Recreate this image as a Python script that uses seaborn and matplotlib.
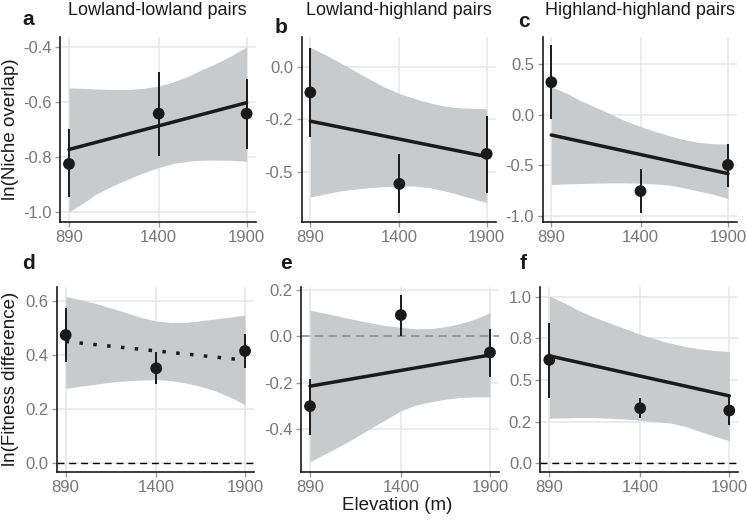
import numpy as np
import pandas as pd
import matplotlib
matplotlib.use("Agg")
import matplotlib.pyplot as plt
import seaborn as sns

# elevations of the three sites
elev = [890, 1400, 1900]
elev_ticks = ["890", "1400", "1900"]

# site means with error bars, one row per panel (a-f)
pt_mean = [[-0.826, -0.642, -0.642],
           [-0.121, -0.557, -0.414],
           [0.317, -0.752, -0.495],
           [0.474, 0.351, 0.415],
           [-0.300, 0.092, -0.069],
           [0.621, 0.331, 0.317]]
pt_low = [[-0.948, -0.798, -0.771],
          [-0.334, -0.697, -0.599],
          [-0.041, -0.971, -0.707],
          [0.375, 0.293, 0.351],
          [-0.422, 0.000, -0.176],
          [0.391, 0.271, 0.228]]
pt_high = [[-0.700, -0.489, -0.514],
           [0.091, -0.416, -0.232],
           [0.686, -0.537, -0.286],
           [0.573, 0.412, 0.477],
           [-0.181, 0.178, 0.034],
           [0.844, 0.391, 0.399]]

# fitted regression line (value at 890 m and 1900 m)
fit_x = [890, 1900]
fit_y = [[-0.773, -0.602],
         [-0.258, -0.427],
         [-0.201, -0.580],
         [0.450, 0.381],
         [-0.214, -0.080],
         [0.645, 0.405]]

# confidence band read at these elevations
band_x = [890, 980, 1050, 1135, 1220, 1310, 1400, 1485, 1570, 1650, 1735, 1820, 1900]
band_hi = [[-0.548, -0.550, -0.552, -0.554, -0.554, -0.550, -0.541, -0.526, -0.505, -0.480, -0.456, -0.428, -0.398],
           [0.094, 0.057, 0.025, -0.014, -0.054, -0.094, -0.126, -0.150, -0.170, -0.185, -0.194, -0.197, -0.199],
           [0.272, 0.207, 0.142, 0.077, 0.013, -0.060, -0.118, -0.167, -0.209, -0.248, -0.274, -0.287, -0.290],
           [0.617, 0.604, 0.593, 0.576, 0.559, 0.540, 0.526, 0.520, 0.521, 0.527, 0.534, 0.541, 0.548],
           [0.113, 0.099, 0.087, 0.073, 0.060, 0.047, 0.039, 0.033, 0.034, 0.042, 0.056, 0.076, 0.102],
           [1.004, 0.960, 0.920, 0.880, 0.846, 0.810, 0.774, 0.747, 0.721, 0.701, 0.687, 0.677, 0.671]]
band_lo = [[-1.001, -0.965, -0.934, -0.907, -0.883, -0.859, -0.839, -0.824, -0.816, -0.812, -0.812, -0.813, -0.816],
           [-0.619, -0.604, -0.592, -0.583, -0.575, -0.570, -0.567, -0.567, -0.575, -0.588, -0.607, -0.627, -0.646],
           [-0.687, -0.681, -0.678, -0.674, -0.671, -0.671, -0.674, -0.681, -0.694, -0.720, -0.752, -0.785, -0.824],
           [0.277, 0.285, 0.291, 0.299, 0.304, 0.307, 0.309, 0.305, 0.296, 0.284, 0.267, 0.243, 0.216],
           [-0.539, -0.503, -0.475, -0.439, -0.400, -0.360, -0.320, -0.295, -0.281, -0.270, -0.262, -0.260, -0.260],
           [0.271, 0.273, 0.275, 0.275, 0.271, 0.267, 0.259, 0.251, 0.242, 0.222, 0.192, 0.162, 0.136]]

# y ticks and their labels per panel
y_ticks = [[-1.0, -0.8, -0.6, -0.4],
           [-0.5, -0.25, 0.0],
           [-1.0, -0.5, 0.0, 0.5],
           [0.0, 0.2, 0.4, 0.6],
           [-0.4, -0.2, 0.0, 0.2],
           [0.0, 0.25, 0.5, 0.75, 1.0]]
y_labels = [["-1.0", "-0.8", "-0.6", "-0.4"],
            ["-0.5", "-0.2", "0.0"],
            ["-1.0", "-0.5", "0.0", "0.5"],
            ["0.0", "0.2", "0.4", "0.6"],
            ["-0.4", "-0.2", "0.0", "0.2"],
            ["0.0", "0.2", "0.5", "0.8", "1.0"]]
y_lims = [(-1.037, -0.362), (-0.737, 0.143), (-1.052, 0.761),
          (-0.032, 0.653), (-0.582, 0.214), (-0.05, 1.06)]

col_titles = ["Lowland-lowland pairs", "Lowland-highland pairs", "Highland-highland pairs"]
letters = ["a", "b", "c", "d", "e", "f"]

# layout in pixels: left, top, width, height
W, H = 747, 522
boxes = [(60.1, 37.0, 195.4, 184.7), (301.5, 37.0, 194.0, 184.7), (542.5, 37.0, 194.3, 184.7),
         (56.7, 286.7, 197.3, 185.0), (301.0, 286.7, 198.0, 185.0), (540.3, 286.7, 198.0, 185.0)]
letter_pos = [(22, 25), (275, 33), (518, 27), (22, 269), (280, 269), (520, 269)]

sns.set_theme(style="whitegrid")
plt.rcParams['font.family'] = ['Liberation Sans', 'DejaVu Sans']

dark = '#1a1a1a'
band_col = '#c9cacc'
tick_col = '#777777'

fig = plt.figure(figsize=(W / 100, H / 100), dpi=100)
fig.patch.set_facecolor('white')

for i in range(6):
    l, t, w, h = boxes[i]
    ax = fig.add_axes([l / W, 1 - (t + h) / H, w / W, h / H])
    ax.set_facecolor('white')

    ax.fill_between(band_x, band_lo[i], band_hi[i], color=band_col, lw=0, zorder=1)

    # reference line at zero for fitness difference panels
    if i == 3 or i == 5:
        ax.axhline(0, color='black', lw=1.0, ls=(0, (5, 3.5)), zorder=2)
    elif i == 4:
        ax.axhline(0, color='#8a8a8a', lw=1.1, ls=(0, (5.5, 3.5)), zorder=2)

    fit_df = pd.DataFrame({'elev': fit_x, 'fit': fit_y[i]})
    ls = (0, (1, 3)) if i == 3 else '-'
    sns.lineplot(data=fit_df, x='elev', y='fit', ax=ax, color=dark, lw=2.5,
                 linestyle=ls, zorder=3)

    ax.vlines(elev, pt_low[i], pt_high[i], color=dark, lw=1.4, zorder=4)
    pt_df = pd.DataFrame({'elev': elev, 'mean': pt_mean[i]})
    sns.scatterplot(data=pt_df, x='elev', y='mean', ax=ax, color=dark, s=72,
                    edgecolor='none', zorder=5)

    ax.set_xlim(839.5, 1950.5)
    ax.set_ylim(*y_lims[i])
    ax.set_xticks(elev)
    ax.set_xticklabels(elev_ticks)
    ax.set_yticks(y_ticks[i])
    ax.set_yticklabels(y_labels[i])
    ax.set_xlabel('')
    ax.set_ylabel('')

    ax.grid(True, color='#e6e6e6', lw=1.1)
    ax.set_axisbelow(True)
    for s in ['top', 'right']:
        ax.spines[s].set_visible(False)
    for s in ['left', 'bottom']:
        ax.spines[s].set_visible(True)
        ax.spines[s].set_color(dark)
        ax.spines[s].set_linewidth(1.2)
    ax.tick_params(axis='both', which='major', length=3.5, width=1.0, color='#9a9a9a',
                   labelsize=12, labelcolor=tick_col, pad=2.5, left=True, bottom=True)

    lx, ly = letter_pos[i]
    fig.text(lx / W, 1 - ly / H, letters[i], fontsize=15, fontweight='bold',
             color=dark, ha='left', va='baseline')

for j in range(3):
    l, t, w, h = boxes[j]
    fig.text((l + w / 2) / W, 1 - 15 / H, col_titles[j], fontsize=13, color=dark,
             ha='center', va='baseline')

fig.text(11 / W, 1 - 129.5 / H, 'ln(Niche overlap)', fontsize=13.5, color=dark,
         rotation=90, ha='center', va='center')
fig.text(11 / W, 1 - 379 / H, 'ln(Fitness difference)', fontsize=13.5, color=dark,
         rotation=90, ha='center', va='center')
fig.text(397 / W, 1 - 505 / H, 'Elevation (m)', fontsize=13.5, color=dark,
         ha='center', va='center')

fig.savefig('out.png', dpi=100, facecolor='white')
